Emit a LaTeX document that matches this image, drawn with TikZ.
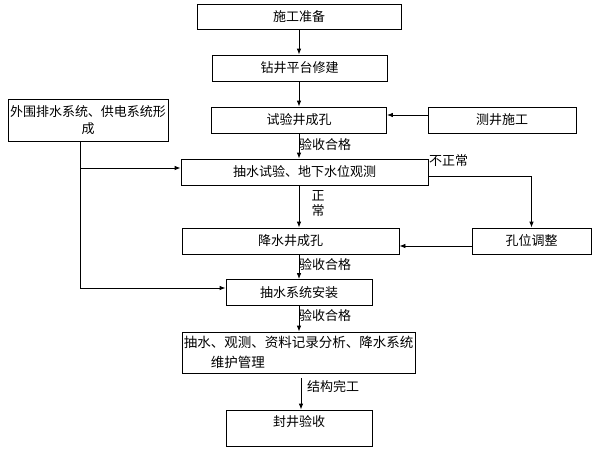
\documentclass[tikz,border=0pt]{standalone}
\usepackage{fontspec}
\setmainfont{Noto Sans CJK SC}
\usetikzlibrary{arrows.meta, positioning}
\tikzstyle{paso} = [draw, rectangle, inner sep=0pt, line width=0.8pt, font=\fontsize{13}{17}\selectfont]
\tikzstyle{etiqueta} = [inner sep=0pt, font=\fontsize{13}{14.5}\selectfont]
\tikzstyle{flecha} = [line width=0.8pt, -{Latex[length=6pt,width=4.5pt]}]

\begin{document}
\begin{tikzpicture}[x=1pt, y=-1pt]
	\useasboundingbox (0,0) rectangle (600,450);
	\coordinate (eje) at (299,0);
	% columna central
	\node [paso, minimum width=204, minimum height=25] (prep) at (299,16.5) {施工准备};
	\node [paso, minimum width=175, minimum height=26] (drill) at (299.5,68) {钻井平台修建};
	\node [paso, minimum width=175, minimum height=26] (testhole) at (299,120) {试验井成孔};
	\node [paso, minimum width=247, minimum height=26] (pumptest) at (304.5,172) {抽水试验、地下水位观测};
	\node [paso, minimum width=217, minimum height=26] (dewater) at (290.5,241) {降水井成孔};
	\node [paso, minimum width=146, minimum height=26] (install) at (299,292.5) {抽水系统安装};
	\node [paso, minimum width=233, minimum height=41, align=left, font=\fontsize{13.5}{20}\selectfont] (manage) at (298.5,352.5) {抽水、观测、资料记录分析、降水系统\\\hspace*{2em}维护管理};
	\node [paso, minimum width=146, minimum height=36, text depth=15pt] (seal) at (299,428) {封井验收};
	% cajas laterales
	\node [paso, minimum width=148, minimum height=26] (logging) at (502,120) {测井施工};
	\node [paso, minimum width=160, minimum height=42, align=center] (outer) at (88,120) {外围排水系统、供电系统形\\成};
	\node [paso, minimum width=119, minimum height=26] (adjust) at (531.5,241) {孔位调整};
	% flechas
	\draw [flecha] (prep.south -| eje) -- (drill.north -| eje);
	\draw [flecha] (drill.south -| eje) -- (testhole.north -| eje);
	\draw [flecha] (testhole.south -| eje) -- (pumptest.north -| eje);
	\node [etiqueta, anchor=west] (ok1) at (299,145) {验收合格};
	\draw [flecha] ([yshift=5pt]logging.west) -- ([yshift=5pt]testhole.east);
	\coordinate (ramal) at (80,168);
	\coordinate (codo) at (80,288);
	\draw [line width=0.8pt] (outer.south -| codo) -- (codo);
	\draw [flecha] (ramal) -- (ramal -| pumptest.west);
	\draw [flecha] (codo) -- (codo -| install.west);
	\draw [flecha] (pumptest.south -| eje) -- (dewater.north -| eje);
	\node [etiqueta, align=center] (normal) at (318,203.5) {正\\常};
	\draw [flecha] ([yshift=-4pt]pumptest.east) -| (adjust.north);
	\node [etiqueta, anchor=west] (abnormal) at (429,161) {不正常};
	\draw [flecha] ([yshift=-5pt]adjust.west) -- ([yshift=-5pt]dewater.east);
	\draw [flecha] (dewater.south -| eje) -- (install.north -| eje);
	\node [etiqueta, anchor=west] (ok2) at (299,265) {验收合格};
	\draw [flecha] (install.south -| eje) -- (manage.north -| eje);
	\node [etiqueta, anchor=west] (ok3) at (299,316) {验收合格};
	\draw [flecha] ([xshift=2.5pt,yshift=-5pt]manage.south) -- ([xshift=2.5pt]manage.south |- seal.north);
	\node [etiqueta, anchor=west] (done) at (307,387) {结构完工};
\end{tikzpicture}
\end{document}
